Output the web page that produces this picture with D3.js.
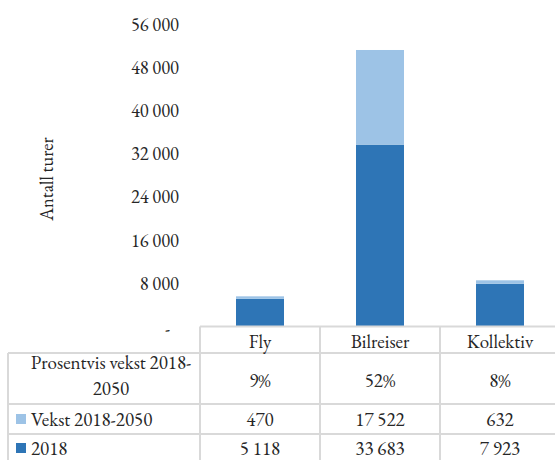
<!DOCTYPE html>
<html><head><meta charset="utf-8">
<script src="https://cdn.jsdelivr.net/npm/d3@7"></script>
<style>body{margin:0;background:#fff}svg{display:block}</style>
</head><body>
<script>
const categories = ["Fly", "Bilreiser", "Kollektiv"];
const base2018 = [5118, 33683, 7923];
const growth = [470, 17522, 632];
const pctGrowth = ["9%", "52%", "8%"];
const yTicks = [0, 8000, 16000, 24000, 32000, 40000, 48000, 56000];
const seriesNames = ["Vekst 2018-2050", "2018"];
const rowTitle = ["Prosentvis vekst 2018-", "2050"];
const yTitle = "Antall turer";

const W = 555, H = 460;
const FONT = '"EB Garamond","Liberation Serif",serif';
const colors = {dark: "#2E75B6", light: "#9DC3E6", grid: "#D9D9D9", text: "#262626"};
const svg = d3.select("body").append("svg").attr("width", W).attr("height", H);

function txt(sel, size) {
  return sel.style("font-family", FONT).style("font-size", size + "px").style("fill", colors.text);
}

const x = d3.scaleBand().domain(categories).range([200, 560]).paddingInner(0).paddingOuter(0);
const y = d3.scaleLinear().domain([0, 56000]).range([326.5, 24.1]);
const loc = d3.formatLocale({decimal: ",", thousands: "\u00a0", grouping: [3], currency: ["", ""]});
const fmt = loc.format(",d");

// y axis labels
const yAxis = d3.axisLeft(y).tickValues(yTicks).tickSize(0).tickPadding(0)
  .tickFormat(d => d === 0 ? "-" : fmt(d));
const ga = svg.append("g").attr("transform", "translate(179,0)").call(yAxis);
ga.select(".domain").remove();
txt(ga.selectAll("text"), 18.5);
ga.selectAll(".tick").filter(d => d === 0).select("text").attr("x", -9).attr("dy", "0.45em");

txt(svg.append("text").attr("transform", "translate(47,179) rotate(-90)")
  .attr("text-anchor", "middle").attr("dy", "0.35em"), 18.5).text(yTitle);

// bars
const bw = 48;
const data = categories.map((c, i) => ({c, b: base2018[i], g: growth[i]}));
svg.selectAll("rect.base").data(data).join("rect").attr("class", "base")
  .attr("x", d => x(d.c) + x.bandwidth() / 2 - bw / 2).attr("width", bw)
  .attr("y", d => y(d.b)).attr("height", d => y(0) - y(d.b)).attr("fill", colors.dark);
svg.selectAll("rect.grow").data(data).join("rect").attr("class", "grow")
  .attr("x", d => x(d.c) + x.bandwidth() / 2 - bw / 2).attr("width", bw)
  .attr("y", d => y(d.b + d.g)).attr("height", d => y(d.b) - y(d.b + d.g)).attr("fill", colors.light);

// table
const rows = [326.5, 353, 404, 434, 462];
const left = 8;
const g = svg.append("g").attr("stroke", colors.grid).attr("stroke-width", 2);
g.append("line").attr("x1", 200).attr("x2", W).attr("y1", rows[0]).attr("y2", rows[0]);
rows.slice(1).forEach(r => g.append("line").attr("x1", left).attr("x2", W).attr("y1", r).attr("y2", r));
g.append("line").attr("x1", left).attr("x2", left).attr("y1", rows[1]).attr("y2", rows[4]);
categories.forEach(c => g.append("line").attr("x1", x(c)).attr("x2", x(c)).attr("y1", rows[0]).attr("y2", rows[4]));

const fs = 19;
function cell(xx, yy, s, anchor) {
  return txt(svg.append("text").attr("x", xx).attr("y", yy).attr("dy", "0.35em")
    .attr("text-anchor", anchor || "middle"), fs).text(s);
}
categories.forEach((c, i) => {
  const cx = x(c) + x.bandwidth() / 2;
  cell(cx, 341, c);
  cell(cx, 380, pctGrowth[i]);
  cell(cx, 419, fmt(growth[i]));
  cell(cx, 448, fmt(base2018[i]));
});
cell(111, 362, rowTitle[0]);
cell(111, 388, rowTitle[1]);

[[419, colors.light, seriesNames[0]], [448, colors.dark, seriesNames[1]]].forEach(([yy, col, name]) => {
  svg.append("rect").attr("x", 16).attr("y", yy - 5).attr("width", 10).attr("height", 10).attr("fill", col);
  cell(31, yy, name, "start");
});
</script>
</body></html>
